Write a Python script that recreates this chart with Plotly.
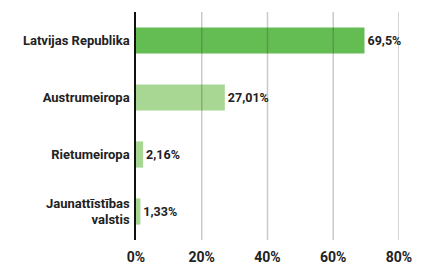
import plotly.graph_objects as go

categories = ["Latvijas Republika", "Austrumeiropa", "Rietumeiropa", "Jaunattīstības<br>valstis"]
values = [69.5, 27.01, 2.16, 1.33]
value_labels = ["69,5%", "27,01%", "2,16%", "1,33%"]
bar_colors = ["#64bd52", "#a7d793", "#a7d793", "#a7d793"]
tick_vals = [0, 20, 40, 60, 80]
tick_text = ["0%", "20%", "40%", "60%", "80%"]

font_family = "Roboto, 'Liberation Sans', sans-serif"

fig = go.Figure()
fig.add_trace(go.Bar(
    x=values, y=categories, orientation="h",
    marker=dict(color=bar_colors, line=dict(width=0)),
    width=0.46,
    text=value_labels, textposition="outside", cliponaxis=False,
    textfont=dict(family=font_family, size=12.5, color="#222222", weight="bold"),
))

for v in tick_vals[1:]:
    fig.add_shape(type="line", xref="x", yref="paper", x0=v, x1=v, y0=0, y1=1,
                  line=dict(color="rgba(60,60,70,0.28)", width=1.5), layer="above")

fig.update_layout(
    width=429, height=264,
    margin=dict(l=136, r=30, t=12, b=24, autoexpand=False),
    paper_bgcolor="white", plot_bgcolor="white",
    showlegend=False,
    bargap=0.54,
    font=dict(family=font_family, size=12, color="#222222"),
)
fig.update_xaxes(range=[0, 80], tickvals=tick_vals, ticktext=tick_text,
                 showgrid=False, zeroline=False, showline=False, ticks="",
                 automargin=False, ticklabelstandoff=7,
                 tickfont=dict(family=font_family, size=14, color="#222222", weight="bold"))
fig.update_yaxes(categoryorder="array", categoryarray=categories[::-1],
                 range=[-0.5, 3.5], showline=True, linecolor="#111111", linewidth=1.5,
                 showgrid=False, zeroline=False, ticks="", ticklen=0, automargin=False,
                 ticklabelstandoff=2,
                 tickfont=dict(family=font_family, size=13, color="#222222", weight="bold"))

fig.write_html("out.html", config={"displayModeBar": False},
               post_script="document.body.style.margin='0';")
